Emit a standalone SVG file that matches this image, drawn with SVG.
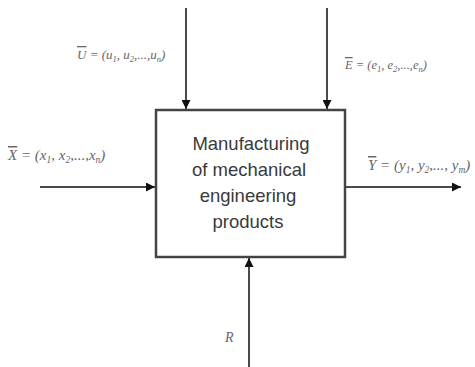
<svg xmlns="http://www.w3.org/2000/svg" width="475" height="367" viewBox="0 0 475 367">
<style>
.edge{stroke:#4a4a4a;stroke-width:2;fill:none}
.lbl{font-family:"Liberation Serif",serif;font-style:italic;font-size:13px;fill:#666}
.sub{font-size:8.5px}
.ttl{font-family:"Liberation Sans",Arial,sans-serif;font-size:18.5px;fill:#3a3a3a;text-anchor:middle}
.ov{text-decoration:overline}
</style>
<defs>
<marker id="ah" viewBox="0 0 10 10" refX="10" refY="5" markerWidth="9" markerHeight="9" markerUnits="userSpaceOnUse" orient="auto">
<path d="M0,0 L10,5 L0,10 Z" fill="#111"/>
</marker>
</defs>
<rect width="475" height="367" fill="#fff"/>
<g id="connectors">
<line class="edge" x1="186" y1="8" x2="186" y2="109" marker-end="url(#ah)"/>
<line class="edge" x1="327" y1="8" x2="327" y2="109" marker-end="url(#ah)"/>
<line class="edge" x1="40" y1="187" x2="155" y2="187" marker-end="url(#ah)"/>
<line class="edge" x1="346" y1="187" x2="461" y2="187" marker-end="url(#ah)"/>
<line class="edge" x1="249" y1="367" x2="249" y2="258" marker-end="url(#ah)"/>
</g>
<g id="process">
<rect x="156" y="110" width="189" height="147" fill="#fff" stroke="#444" stroke-width="2.5"/>
<text class="ttl" x="251" y="150">Manufacturing</text>
<text class="ttl" x="249" y="176">of mechanical</text>
<text class="ttl" x="248" y="202">engineering</text>
<text class="ttl" x="248" y="228">products</text>
</g>
<g id="label-U">
<text class="lbl" x="77" y="59"><tspan class="ov">U</tspan> = (u<tspan class="sub" dy="2.5">1</tspan><tspan dy="-2.5">, u</tspan><tspan class="sub" dy="2.5">2</tspan><tspan dy="-2.5">,...,u</tspan><tspan class="sub" dy="2.5">n</tspan><tspan dy="-2.5">)</tspan></text>
</g>
<g id="label-E">
<text class="lbl" x="345" y="69" style="font-size:12.5px"><tspan class="ov">E</tspan> = (e<tspan class="sub" dy="2.5">1</tspan><tspan dy="-2.5">, e</tspan><tspan class="sub" dy="2.5">2</tspan><tspan dy="-2.5">,...,e</tspan><tspan class="sub" dy="2.5">n</tspan><tspan dy="-2.5">)</tspan></text>
</g>
<g id="label-X">
<text class="lbl" x="8" y="160" style="font-size:15px"><tspan class="ov">X</tspan> = (x<tspan class="sub" dy="3" style="font-size:9.5px">1</tspan><tspan dy="-3">, x</tspan><tspan class="sub" dy="3" style="font-size:9.5px">2</tspan><tspan dy="-3">,...,x</tspan><tspan class="sub" dy="3" style="font-size:9.5px">n</tspan><tspan dy="-3">)</tspan></text>
</g>
<g id="label-Y">
<text class="lbl" x="368" y="170" style="font-size:15px"><tspan class="ov">Y</tspan> = (y<tspan class="sub" dy="3" style="font-size:9.5px">1</tspan><tspan dy="-3">, y</tspan><tspan class="sub" dy="3" style="font-size:9.5px">2</tspan><tspan dy="-3">,..., y</tspan><tspan class="sub" dy="3" style="font-size:9.5px">m</tspan><tspan dy="-3">)</tspan></text>
</g>
<g id="label-R">
<text class="lbl" x="225" y="342" style="font-size:14px">R</text>
</g>
</svg>
